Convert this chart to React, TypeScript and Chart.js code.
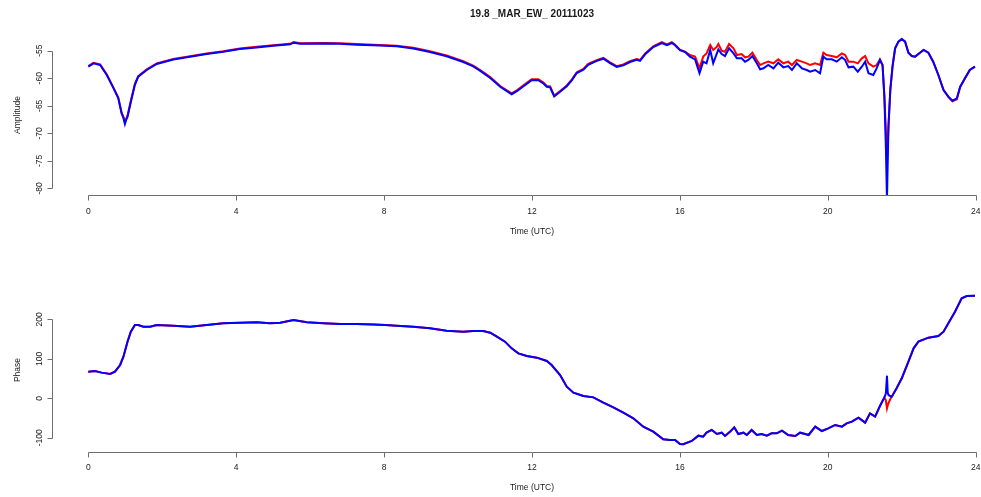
import React, { useEffect, useRef } from "react";
import { Chart, registerables } from "chart.js";

Chart.register(...registerables);

const FONT = '"Liberation Sans", Arial, Helvetica, sans-serif';
const TITLE = "19.8 _MAR_EW_ 20111023";
const X_TITLE = "Time (UTC)";
const X_TICKS = [0, 4, 8, 12, 16, 20, 24];
const AMP_TICKS = [-55, -60, -65, -70, -75, -80];
const PHASE_TICKS = [-100, 0, 100, 200];

const ampTime = [
  0, 0.14, 0.32, 0.5, 0.68, 0.81, 0.9, 0.95, 0.99, 1.02,
  1.06, 1.15, 1.26, 1.35, 1.58, 1.85, 2.3, 2.75, 3.2, 3.65,
  4.1, 4.55, 5.0, 5.46, 5.55, 5.73, 6.36, 6.8, 7.26, 7.71,
  8.03, 8.34, 8.79, 9.24, 9.69, 10.14, 10.41, 10.6, 10.87, 11.14,
  11.32, 11.45, 11.59, 11.77, 11.99, 12.17, 12.31, 12.4, 12.49, 12.6,
  12.76, 12.94, 13.08, 13.21, 13.39, 13.52, 13.75, 13.93, 14.11, 14.29,
  14.47, 14.65, 14.83, 14.92, 15.06, 15.28, 15.51, 15.65, 15.78, 15.87,
  16.0, 16.14,
  16.27, 16.41, 16.53, 16.63, 16.72, 16.82, 16.9, 17.0, 17.04, 17.13,
  17.22, 17.33, 17.45, 17.54, 17.67, 17.76, 17.85, 17.96, 18.08, 18.17,
  18.26, 18.39, 18.53, 18.66, 18.8, 18.93, 19.03, 19.16, 19.3, 19.43,
  19.52, 19.66, 19.79, 19.88, 19.97, 20.11, 20.24, 20.38, 20.47, 20.56,
  20.69, 20.81, 20.92, 21.01, 21.1, 21.23, 21.32, 21.41, 21.48, 21.53,
  21.57, 21.6, 21.64, 21.69, 21.75, 21.82, 21.91, 22.0, 22.09, 22.18,
  22.27, 22.36, 22.45, 22.59, 22.72, 22.85, 22.99, 23.13, 23.26, 23.37,
  23.49, 23.58, 23.71, 23.84, 23.98,
];

const ampRed = [
  -57.8, -57.2, -57.5, -59.3, -61.7, -63.5, -66.2, -67.0, -68.0, -67.4,
  -66.8, -64.1, -61.0, -59.6, -58.4, -57.3, -56.5, -56.0, -55.5, -55.1,
  -54.6, -54.3, -54.0, -53.75, -53.45, -53.65, -53.6, -53.65, -53.8, -53.9,
  -54.0, -54.1, -54.45, -55.1, -55.85, -56.9, -57.7, -58.5, -59.8, -61.4,
  -62.2, -62.75, -62.2, -61.3, -60.2, -60.2, -60.8, -61.4, -61.5, -63.15,
  -62.3, -61.3, -60.2, -58.9, -58.3, -57.4, -56.7, -56.3, -57.1, -57.8,
  -57.5, -56.9, -56.5, -56.7, -55.5, -54.2, -53.45, -53.85, -53.45, -53.9,
  -54.8, -55.15,
  -55.78, -56.08, -58.2, -56.08, -55.48, -53.97, -54.87, -54.27, -53.78, -55.0,
  -55.18, -53.78, -54.57, -55.78, -55.6, -56.2, -56.08, -55.36, -56.69, -57.6,
  -57.29, -56.99, -57.29, -56.57, -57.29, -56.99, -57.6, -56.69, -56.99, -57.29,
  -57.6, -57.29, -57.6, -55.36, -55.78, -55.96, -56.2, -55.48, -55.78, -56.99,
  -56.99, -57.29, -56.38, -55.96, -57.29, -57.9, -57.6, -56.57, -57.6, -63.34,
  -69.4, -75.44, -68.79, -62.13, -57.9, -54.57, -53.36, -52.88, -53.36, -55.36,
  -55.96, -56.08, -55.6, -54.87, -55.36, -56.99, -59.41, -62.13, -63.4, -64.2,
  -63.8, -61.6, -60.01, -58.5, -57.9,
];

const ampBlue = [
  -57.9, -57.3, -57.6, -59.4, -61.8, -63.6, -66.4, -67.2, -68.3, -67.6,
  -67.0, -64.3, -61.2, -59.7, -58.5, -57.4, -56.6, -56.1, -55.6, -55.2,
  -54.7, -54.4, -54.1, -53.85, -53.55, -53.75, -53.7, -53.75, -53.9, -54.0,
  -54.1, -54.2, -54.6, -55.25, -56.0, -57.05, -57.85, -58.65, -59.95, -61.55,
  -62.35, -62.9, -62.35, -61.45, -60.35, -60.35, -60.95, -61.55, -61.65, -63.3,
  -62.45, -61.45, -60.35, -59.05, -58.45, -57.55, -56.85, -56.45, -57.25, -57.95,
  -57.65, -57.05, -56.65, -56.85, -55.65, -54.35, -53.6, -54.0, -53.6, -54.0,
  -54.9, -55.25,
  -56.08, -56.57, -59.1, -56.99, -57.29, -54.87, -57.29, -55.48, -54.75, -55.6,
  -55.96, -54.57, -55.48, -56.38, -56.38, -56.99, -56.69, -55.96, -57.29, -58.38,
  -58.2, -57.6, -58.2, -57.17, -58.02, -57.78, -58.5, -57.29, -58.2, -58.5,
  -58.8, -58.5, -59.1, -56.08, -56.57, -56.57, -56.99, -56.2, -56.69, -58.02,
  -57.9, -58.8, -57.9, -56.99, -59.1, -59.41, -58.2, -56.69, -57.6, -63.34,
  -72.42, -82, -68.79, -62.13, -57.9, -54.57, -53.36, -52.88, -53.36, -55.36,
  -55.96, -56.08, -55.6, -54.87, -55.36, -56.99, -59.41, -62.13, -63.34, -64.07,
  -63.64, -61.53, -60.01, -58.5, -57.9,
];

const phaseTime = [
  0, 0.18, 0.36, 0.59, 0.72, 0.86, 0.95, 1.06, 1.15, 1.26,
  1.35, 1.49, 1.67, 1.85, 2.3, 2.75, 3.2, 3.65, 4.1, 4.55,
  4.91, 5.19, 5.55, 5.91, 6.36, 6.81, 7.26, 7.71, 8.03, 8.34,
  8.79, 9.24, 9.69, 10.14, 10.41, 10.68, 10.87, 11.05, 11.27, 11.45,
  11.63, 11.86, 12.13, 12.4, 12.53, 12.76, 12.94, 13.12, 13.39, 13.66,
  13.93, 14.2, 14.47, 14.74, 15.01, 15.28, 15.55, 15.73, 15.87, 16.0,
  16.09, 16.32, 16.5, 16.63, 16.72, 16.86, 17.0, 17.13, 17.22, 17.36,
  17.47, 17.58, 17.72, 17.81, 17.94, 18.08, 18.21, 18.35, 18.48, 18.62,
  18.76, 18.93, 19.12, 19.25, 19.39, 19.48, 19.66, 19.84, 20.01, 20.2,
  20.38, 20.51, 20.65, 20.83, 21.01, 21.14, 21.28, 21.41, 21.53, 21.57,
  21.6, 21.62, 21.64, 21.7, 21.73, 21.86, 22.0, 22.18, 22.32, 22.45,
  22.72, 22.99, 23.13, 23.26, 23.44, 23.62, 23.76, 23.98,
];

const phaseRed = [
  67.5, 69.2, 65, 61.6, 67.5, 84.4, 105.5, 143.5, 168.8, 185.7,
  185.7, 181.5, 181.5, 185.7, 184, 181.5, 185.7, 189.9, 191.6, 192.5,
  189.9, 191.6, 198.4, 192.5, 189.9, 188.2, 188.2, 187.3, 185.7, 184,
  181.5, 177.3, 171.4, 168.8, 170.6, 170.6, 166.3, 156.2, 143.5, 126.6,
  113.9, 107.2, 103, 94.5, 84.4, 59, 29.5, 14.3, 5.8, 2.4,
  -11.1, -22.9, -36.4, -50.7, -71.9, -84.5, -103.9, -105.6, -105.6, -115.8,
  -116.6, -108.2, -94.7, -97.2, -87.1, -80.3, -90.5, -87.1, -95.5, -84.5,
  -73.6, -90.5, -87.1, -93, -80.3, -93, -90.5, -94.7, -88.8, -88.8,
  -82, -93, -95.5, -87.1, -90.5, -93, -71.9, -82.9, -76.1, -67.6,
  -71.9, -63.4, -59.2, -49.1, -61.7, -38.1, -46.5, -19.5, 2.4, -5,
  -25.4, -18, -12.7, 0, 4.1, 25.3, 50.6, 92.8, 126.6, 143.5,
  153.6, 157.8, 168.8, 189.9, 219.5, 253.3, 259.2, 260,
];

const phaseBlue = [
  67.5, 69.2, 65, 61.6, 67.5, 84.4, 105.5, 143.5, 168.8, 185.7,
  185.7, 181.5, 181.5, 185.7, 184, 181.5, 185.7, 189.9, 191.6, 192.5,
  189.9, 191.6, 198.4, 192.5, 189.9, 188.2, 188.2, 187.3, 185.7, 184,
  181.5, 177.3, 171.4, 168.8, 170.6, 170.6, 166.3, 156.2, 143.5, 126.6,
  113.9, 107.2, 103, 94.5, 84.4, 59, 29.5, 14.3, 5.8, 2.4,
  -11.1, -22.9, -36.4, -50.7, -71.9, -84.5, -103.9, -105.6, -105.6, -115.8,
  -116.6, -108.2, -94.7, -97.2, -87.1, -80.3, -90.5, -87.1, -95.5, -84.5,
  -73.6, -90.5, -87.1, -93, -80.3, -93, -90.5, -94.7, -88.8, -88.8,
  -82, -93, -95.5, -87.1, -90.5, -93, -71.9, -82.9, -76.1, -67.6,
  -71.9, -63.4, -59.2, -49.1, -61.7, -38.1, -46.5, -19.5, 2.4, 12,
  57.3, 15, 8.4, 5, 4.1, 25.3, 50.6, 92.8, 126.6, 143.5,
  153.6, 157.8, 168.8, 189.9, 219.5, 253.3, 259.2, 260,
];

const X_MIN = -0.982;
const X_MAX = 24.143;
const AXIS_COLOR = "#6e6e6e";
const TEXT_COLOR = "#1a1a1a";

type PanelProps = {
  top: number;
  height: number;
  padTop: number;
  padBottom: number;
  yMin: number;
  yMax: number;
  yTicks: number[];
  yTitle: string;
  time: number[];
  red: number[];
  blue: number[];
  showTitle: boolean;
  xLabelOffset: number;
  xTitleOffset: number;
};

function makeAxesPlugin(p: PanelProps) {
  return {
    id: "rAxes",
    afterDraw(chart: any) {
      const { ctx, chartArea, scales } = chart;
      const xs = scales.x;
      const ys = scales.y;
      ctx.save();
      ctx.strokeStyle = AXIS_COLOR;
      ctx.lineWidth = 1;
      // x axis
      const yb = Math.round(chartArea.bottom) + 0.5;
      const xa = Math.round(xs.getPixelForValue(X_TICKS[0])) + 0.5;
      const xb = Math.round(xs.getPixelForValue(X_TICKS[X_TICKS.length - 1])) + 0.5;
      ctx.beginPath();
      ctx.moveTo(xa, yb);
      ctx.lineTo(xb, yb);
      X_TICKS.forEach((t) => {
        const px = Math.round(xs.getPixelForValue(t)) + 0.5;
        ctx.moveTo(px, yb);
        ctx.lineTo(px, yb + 5);
      });
      // y axis
      const xl = Math.round(chartArea.left) + 0.5;
      const ya = Math.round(ys.getPixelForValue(Math.max(...p.yTicks))) + 0.5;
      const ybt = Math.round(ys.getPixelForValue(Math.min(...p.yTicks))) + 0.5;
      ctx.moveTo(xl, ya);
      ctx.lineTo(xl, ybt);
      p.yTicks.forEach((t) => {
        const py = Math.round(ys.getPixelForValue(t)) + 0.5;
        ctx.moveTo(xl, py);
        ctx.lineTo(xl - 5, py);
      });
      ctx.stroke();

      ctx.fillStyle = TEXT_COLOR;
      ctx.font = `8.5px ${FONT}`;
      ctx.textAlign = "center";
      ctx.textBaseline = "alphabetic";
      X_TICKS.forEach((t) => {
        ctx.fillText(String(t), xs.getPixelForValue(t), yb + p.xLabelOffset);
      });
      const cx = xs.getPixelForValue(12);
      ctx.fillText(X_TITLE, cx, yb + p.xTitleOffset);

      p.yTicks.forEach((t) => {
        ctx.save();
        ctx.translate(42, ys.getPixelForValue(t));
        ctx.rotate(-Math.PI / 2);
        ctx.fillText(String(t), 0, 0);
        ctx.restore();
      });
      ctx.save();
      ctx.translate(19.5, (chartArea.top + chartArea.bottom) / 2);
      ctx.rotate(-Math.PI / 2);
      ctx.fillText(p.yTitle, 0, 0);
      ctx.restore();

      if (p.showTitle) {
        ctx.font = `bold 10px ${FONT}`;
        ctx.fillText(TITLE, cx, 16.5);
      }
      ctx.restore();
    },
  };
}

function Panel(p: PanelProps) {
  const ref = useRef<HTMLCanvasElement | null>(null);
  useEffect(() => {
    if (!ref.current) return;
    const toPts = (vals: number[]) => p.time.map((t, i) => ({ x: t, y: vals[i] }));
    const chart = new Chart(ref.current, {
      type: "line",
      data: {
        datasets: [
          { data: toPts(p.blue), borderColor: "#0000ff", borderWidth: 2, pointRadius: 0, fill: false, tension: 0 },
          { data: toPts(p.red), borderColor: "#ff0000", borderWidth: 2, pointRadius: 0, fill: false, tension: 0 },
        ],
      },
      options: {
        responsive: false,
        animation: false,
        events: [],
        layout: { padding: { left: 52, right: 0, top: p.padTop, bottom: p.padBottom } },
        plugins: { legend: { display: false }, tooltip: { enabled: false }, title: { display: false } },
        scales: {
          x: { type: "linear", min: X_MIN, max: X_MAX, display: false },
          y: { type: "linear", min: p.yMin, max: p.yMax, display: false },
        },
      },
      plugins: [makeAxesPlugin(p)],
    } as any);
    return () => chart.destroy();
  }, []);
  return (
    <canvas
      ref={ref}
      width={981}
      height={p.height}
      style={{ position: "absolute", left: 0, top: p.top, width: 981, height: p.height }}
    />
  );
}

export default function App() {
  return (
    <div style={{ position: "fixed", left: 0, top: 0, width: 981, height: 497, background: "#fff" }}>
      <Panel
        top={0}
        height={250}
        padTop={35}
        padBottom={55}
        yMin={-81.19}
        yMax={-52.15}
        yTicks={AMP_TICKS}
        yTitle="Amplitude"
        time={ampTime}
        red={ampRed}
        blue={ampBlue}
        showTitle={true}
        xLabelOffset={18}
        xTitleOffset={38}
      />
      <Panel
        top={250}
        height={247}
        padTop={38}
        padBottom={45}
        yMin={-136.1}
        yMax={279.5}
        yTicks={PHASE_TICKS}
        yTitle="Phase"
        time={phaseTime}
        red={phaseRed}
        blue={phaseBlue}
        showTitle={false}
        xLabelOffset={17.5}
        xTitleOffset={37}
      />
    </div>
  );
}
